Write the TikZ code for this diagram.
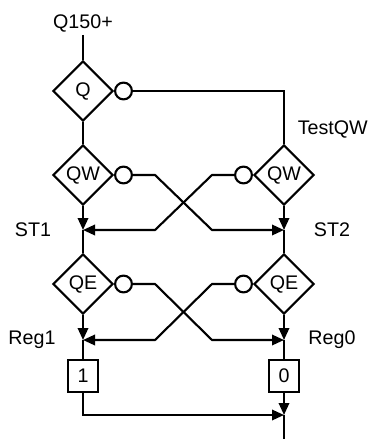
\documentclass[tikz,border=0pt]{standalone}
\usepackage{fontspec}
\setmainfont{Liberation Sans}
\usetikzlibrary{positioning, arrows.meta, shapes.geometric}
\tikzset{every picture/.append style={thick}}

\begin{document}
\begin{tikzpicture}[
        line width=1.5pt,
        every node/.style={font=\fontsize{14}{17}\selectfont},
        test/.style={diamond, draw, aspect=1, minimum size=1.5cm, inner sep=0pt},
        inv/.style={circle, draw, minimum size=0.42cm, inner sep=0pt},
        regbox/.style={rectangle, draw, minimum width=0.75cm, minimum height=0.8cm, inner sep=0pt},
        tip/.style={-{Triangle[length=3mm, width=2.6mm]}}
    ]
        \useasboundingbox (0,0) rectangle (9.25,-10.975);

        % Input and first test
        \node (in) at (2.075,-0.575) {Q150+};
        \coordinate (intop) at (2.075,-0.875);
        \node[test] (q) at (2.075,-2.275) {Q};
        \node[inv, right=0pt of q] (qn) {};

        % Tests QW and QE, both columns
        \node[test] (qwL) at (2.075,-4.375) {QW};
        \node[test] (qwR) at (7.1,-4.375) {QW};
        \node[test] (qeL) at (2.075,-7.1) {QE};
        \node[test] (qeR) at (7.1,-7.1) {QE};
        \node[inv, right=0pt of qwL] (qwLn) {};
        \node[inv, left=0pt of qwR] (qwRn) {};
        \node[inv, right=0pt of qeL] (qeLn) {};
        \node[inv, left=0pt of qeR] (qeRn) {};

        % Junctions
        \coordinate (st1) at (2.075,-5.75);
        \coordinate (st2) at (7.1,-5.75);
        \coordinate (reg1) at (2.075,-8.5);
        \coordinate (reg0) at (7.1,-8.5);
        \coordinate (join) at (7.1,-10.375);
        \coordinate (out) at (7.1,-10.975);
        \coordinate (bendL) at (3.875,0);
        \coordinate (bendR) at (5.3,0);

        % Registers
        \node[regbox] (b1) at (2.075,-9.4) {1};
        \node[regbox] (b0) at (7.1,-9.4) {0};

        % Labels
        \node[anchor=east, inner sep=0pt] (testqw) at (9.22,-3.225) {TestQW};
        \node (lst1) at (0.825,-5.75) {ST1};
        \node (lst2) at (8.3,-5.75) {ST2};
        \node (lreg1) at (0.8,-8.5) {Reg1};
        \node (lreg0) at (8.3,-8.5) {Reg0};

        % Left column
        \draw (intop) -- (q.north);
        \draw (q.south) -- (qwL.north);
        \draw[tip] (qwL.south) -- (st1);
        \draw (st1) -- (qeL.north);
        \draw[tip] (qeL.south) -- (reg1);
        \draw (reg1) -- (b1.north);

        % Right column
        \draw (qn.east) -| (qwR.north);
        \draw[tip] (qwR.south) -- (st2);
        \draw (st2) -- (qeR.north);
        \draw[tip] (qeR.south) -- (reg0);
        \draw (reg0) -- (b0.north);
        \draw[tip] (b0.south) -- (join);
        \draw (join) -- (out);
        \draw[tip] (b1.south) |- (join);

        % Crossings
        \draw[tip] (qwLn.east) -- (qwLn.east -| bendL) -- (st2 -| bendR) -- (st2);
        \draw[tip] (qwRn.west) -- (qwRn.west -| bendR) -- (st1 -| bendL) -- (st1);
        \draw[tip] (qeLn.east) -- (qeLn.east -| bendL) -- (reg0 -| bendR) -- (reg0);
        \draw[tip] (qeRn.west) -- (qeRn.west -| bendR) -- (reg1 -| bendL) -- (reg1);
    \end{tikzpicture}
\end{document}
